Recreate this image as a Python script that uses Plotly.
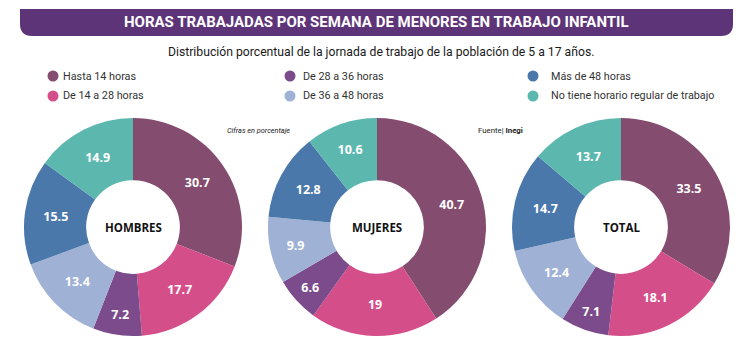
import plotly.graph_objects as go

categories = ["Hasta 14 horas", "De 14 a 28 horas", "De 28 a 36 horas",
              "De 36 a 48 horas", "Más de 48 horas", "No tiene horario regular de trabajo"]
hombres = [30.7, 17.7, 7.2, 13.4, 15.5, 14.9]
mujeres = [40.7, 19, 6.6, 9.9, 12.8, 10.6]
total = [33.5, 18.1, 7.1, 12.4, 14.7, 13.7]
groups = ["HOMBRES", "MUJERES", "TOTAL"]
series = [hombres, mujeres, total]

colors = ["#844C6E", "#D44E8A", "#7B4B8B", "#9FB1D4", "#4B78AB", "#5CB8AF"]

W, H = 750, 345


def fx(p):
    return p / W


def fy(p):
    return 1 - p / H


centers_x = [133, 377, 621]
cy = 227
R = 109

fig = go.Figure()
for name, vals, cx in zip(groups, series, centers_x):
    fig.add_trace(go.Pie(
        labels=categories, values=vals, text=[f"{v:g}" for v in vals],
        textinfo="text", textposition="inside", insidetextorientation="horizontal",
        textfont=dict(color="white", size=12.5, family="Open Sans", weight=700),
        marker=dict(colors=colors, line=dict(width=0)),
        sort=False, direction="clockwise", rotation=0, hole=0.43,
        domain=dict(x=[fx(cx - R), fx(cx + R)], y=[fy(cy + R), fy(cy - R)]),
        showlegend=False, hoverinfo="label+value", name=name,
    ))

shapes = []
annotations = []

# title banner
bx0, bx1, by0, by1, r = 20, 733, 9, 36, 12
path = (f"M {fx(bx0)},{fy(by0)} L {fx(bx1)},{fy(by0)} L {fx(bx1)},{fy(by1 - r)} "
        f"Q {fx(bx1)},{fy(by1)} {fx(bx1 - r)},{fy(by1)} L {fx(bx0 + r)},{fy(by1)} "
        f"Q {fx(bx0)},{fy(by1)} {fx(bx0)},{fy(by1 - r)} Z")
shapes.append(dict(type="path", xref="paper", yref="paper", path=path,
                   fillcolor="#5E3478", line=dict(width=0), layer="below"))
annotations.append(dict(x=fx(376), y=fy(22.5), xref="paper", yref="paper",
                        text="<b>HORAS TRABAJADAS POR SEMANA DE MENORES EN TRABAJO INFANTIL</b>",
                        showarrow=False, xanchor="center", yanchor="middle",
                        font=dict(family="Roboto", size=15, color="white")))
annotations.append(dict(x=fx(381), y=fy(52), xref="paper", yref="paper",
                        text="Distribución porcentual de la jornada de trabajo de la población de 5 a 17 años.",
                        showarrow=False, xanchor="center", yanchor="middle",
                        font=dict(family="Roboto", size=12.2, color="#1a1a1a")))

# legend
leg_marker_x = [53, 290, 533]
leg_text_x = [61, 301, 549]
leg_y = [76, 96]
for i, (cat, col) in enumerate(zip(categories, colors)):
    c, rw = divmod(i, 2)
    mx, my = leg_marker_x[c], leg_y[rw]
    shapes.append(dict(type="circle", xref="paper", yref="paper",
                       x0=fx(mx - 5.5), x1=fx(mx + 5.5), y0=fy(my + 5.5), y1=fy(my - 5.5),
                       fillcolor=col, line=dict(width=0)))
    annotations.append(dict(x=fx(leg_text_x[c]), y=fy(my), xref="paper", yref="paper",
                            text=cat, showarrow=False, xanchor="left", yanchor="middle",
                            font=dict(family="Roboto", size=10.8, color="#333333")))

annotations.append(dict(x=fx(225), y=fy(130), xref="paper", yref="paper",
                        text="<i>Cifras en porcentaje</i>", showarrow=False,
                        xanchor="left", yanchor="middle",
                        font=dict(family="Roboto", size=7.3, color="#222222")))
annotations.append(dict(x=fx(476), y=fy(130), xref="paper", yref="paper",
                        text="Fuente| <b>Inegi</b>", showarrow=False,
                        xanchor="left", yanchor="middle",
                        font=dict(family="Roboto", size=7.8, color="#222222")))

for name, cx in zip(groups, centers_x):
    annotations.append(dict(x=fx(cx), y=fy(cy), xref="paper", yref="paper",
                            text=f"<b>{name}</b>", showarrow=False,
                            xanchor="center", yanchor="middle",
                            font=dict(family="Open Sans", size=11.5, color="#111111")))

fig.update_layout(width=W, height=H, margin=dict(l=0, r=0, t=0, b=0),
                  paper_bgcolor="white", plot_bgcolor="white",
                  shapes=shapes, annotations=annotations)

fig.write_html("out.html")
